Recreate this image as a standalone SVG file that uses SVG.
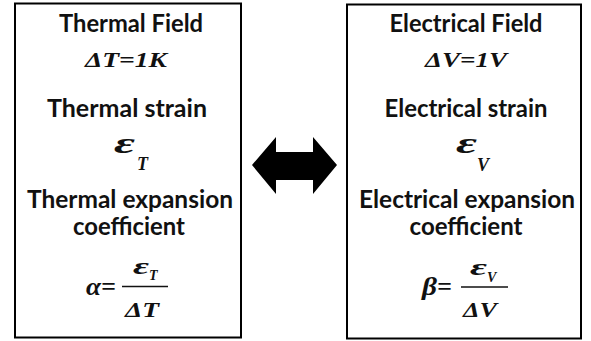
<svg xmlns="http://www.w3.org/2000/svg" width="591" height="341" viewBox="0 0 591 341">
<style>
.box{fill:#fff;stroke:#000;stroke-width:2}
.lbl{font-family:Lato,"Liberation Sans",sans-serif;font-weight:700;font-size:24px;fill:#111;text-anchor:middle}
.m{font-family:"Liberation Serif","Times New Roman",serif;font-weight:700;font-style:italic;fill:#111}
.frac{stroke:#111;stroke-width:1.6}
</style>
<rect width="591" height="341" fill="#fff"/>
<g id="thermal">
<rect class="box" x="15" y="3.5" width="226" height="334"/>
<text class="lbl" x="131" y="32" textLength="144" lengthAdjust="spacingAndGlyphs">Thermal Field</text>
<text class="m" x="85" y="66.5" font-size="21" textLength="82" lengthAdjust="spacingAndGlyphs">ΔT=1K</text>
<text class="lbl" x="127" y="117" textLength="160" lengthAdjust="spacingAndGlyphs">Thermal strain</text>
<text class="m" x="114" y="153" font-size="30" textLength="21" lengthAdjust="spacingAndGlyphs">ε</text>
<text class="m" x="137" y="170" font-size="18">T</text>
<text class="lbl" x="130" y="208" textLength="206" lengthAdjust="spacingAndGlyphs">Thermal expansion</text>
<text class="lbl" x="129" y="235" textLength="112" lengthAdjust="spacingAndGlyphs">coefficient</text>
<text class="m" x="86" y="295" font-size="26" textLength="15" lengthAdjust="spacingAndGlyphs">α</text>
<text class="m" x="101" y="295" font-size="26">=</text>
<line class="frac" x1="122" y1="286.5" x2="168" y2="286.5"/>
<text class="m" x="133" y="274" font-size="24" textLength="16" lengthAdjust="spacingAndGlyphs">ε</text>
<text class="m" x="149" y="280" font-size="14">T</text>
<text class="m" x="125" y="317" font-size="21" textLength="34" lengthAdjust="spacingAndGlyphs">ΔT</text>
</g>
<g id="electrical">
<rect class="box" x="347" y="4.5" width="234" height="334"/>
<text class="lbl" x="466" y="32" textLength="153" lengthAdjust="spacingAndGlyphs">Electrical Field</text>
<text class="m" x="425" y="66.5" font-size="21" textLength="82" lengthAdjust="spacingAndGlyphs">ΔV=1V</text>
<text class="lbl" x="466" y="117" textLength="163" lengthAdjust="spacingAndGlyphs">Electrical strain</text>
<text class="m" x="456" y="153" font-size="30" textLength="21" lengthAdjust="spacingAndGlyphs">ε</text>
<text class="m" x="477" y="171" font-size="18">V</text>
<text class="lbl" x="467" y="208" textLength="216" lengthAdjust="spacingAndGlyphs">Electrical expansion</text>
<text class="lbl" x="466" y="235" textLength="113" lengthAdjust="spacingAndGlyphs">coefficient</text>
<text class="m" x="422" y="295" font-size="26" textLength="15" lengthAdjust="spacingAndGlyphs">β</text>
<text class="m" x="437" y="295" font-size="26">=</text>
<line class="frac" x1="461" y1="287" x2="508" y2="287"/>
<text class="m" x="470" y="275" font-size="24" textLength="17" lengthAdjust="spacingAndGlyphs">ε</text>
<text class="m" x="487" y="282" font-size="14">V</text>
<text class="m" x="463" y="317" font-size="21" textLength="34" lengthAdjust="spacingAndGlyphs">ΔV</text>
</g>
<g id="connectors">
<polygon points="252,165 276,137 276,152 313,152 313,137 337,165 313,194 313,180 276,180 276,194" fill="#000"/>
</g>
</svg>
